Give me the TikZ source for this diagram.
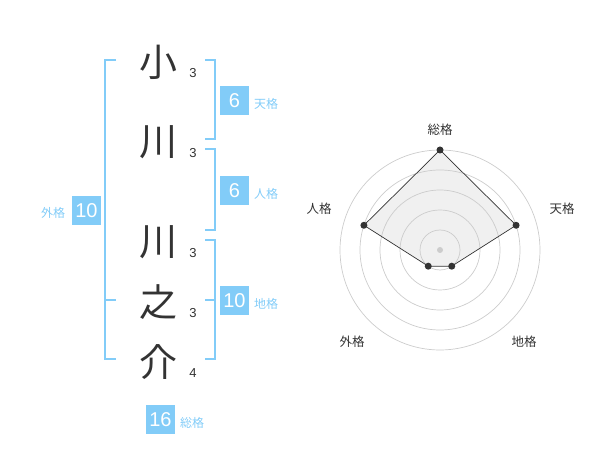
\documentclass[tikz,border=0pt]{standalone}
\usepackage{fontspec}
\setmainfont{Liberation Sans}
\newfontfamily\jpfont{Noto Sans CJK JP}
\usetikzlibrary{calc}
\definecolor{kakublue}{RGB}{130,204,248}
\definecolor{inkgray}{RGB}{51,51,51}
\tikzset{
  kanji/.style={font=\jpfont\fontsize{38}{38}\selectfont, text=inkgray, inner sep=0pt},
  strokes/.style={font=\fontsize{13}{13}\selectfont, text=inkgray, inner sep=0pt},
  scorebox/.style={fill=kakublue, text=white, minimum width=29pt, minimum height=29pt, inner sep=0pt, font=\fontsize{20}{20}\selectfont},
  kakulabel/.style={font=\jpfont\fontsize{12}{12}\selectfont, text=kakublue, inner sep=0pt},
  bracket/.style={draw=kakublue, line width=2pt},
  ring/.style={draw=black!20, line width=0.7pt},
  axislabel/.style={font=\jpfont\fontsize{12.5}{12.5}\selectfont, text=inkgray, inner sep=0pt},
}
\begin{document}
\begin{tikzpicture}[x=1pt,y=-1pt]
            \useasboundingbox (0,0) rectangle (600,470);
            % name and stroke counts
            \node[kanji] (k1) at (158,62) {小};
            \node[kanji] (k2) at (158,142) {川};
            \node[kanji] (k3) at (158,242) {川};
            \node[kanji] (k4) at (158,302) {之};
            \node[kanji] (k5) at (158,362) {介};
            \node[strokes] (s1) at (193,73) {3};
            \node[strokes] (s2) at (193,153) {3};
            \node[strokes] (s3) at (193,253) {3};
            \node[strokes] (s4) at (193,313) {3};
            \node[strokes] (s5) at (193,373) {4};
            % brackets
            \draw[bracket] (116,60)--(105,60)--(105,359)--(116,359);
            \draw[bracket] (105,300)--(116,300);
            \draw[bracket] (205,60)--(215,60)--(215,139)--(205,139);
            \draw[bracket] (205,149)--(215,149)--(215,230)--(205,230);
            \draw[bracket] (205,240)--(215,240)--(215,359)--(205,359);
            \draw[bracket] (205,300)--(215,300);
            % scores
            \node[scorebox] (gaibox) at (86.5,210.5) {10};
            \node[kakulabel] (gailbl) at (53,213) {外格};
            \node[scorebox] (tenbox) at (234.5,100.5) {6};
            \node[kakulabel] (tenlbl) at (266,104) {天格};
            \node[scorebox] (jinbox) at (234.5,190.5) {6};
            \node[kakulabel] (jinlbl) at (266,194) {人格};
            \node[scorebox] (chibox) at (234.5,300.5) {10};
            \node[kakulabel] (chilbl) at (266,304) {地格};
            \node[scorebox] (soubox) at (160.5,419.5) {16};
            \node[kakulabel] (soulbl) at (192,423) {総格};
            % radar
            \coordinate (c) at (440,250);
            \coordinate (rsou) at ($(c)+(-90:100)$);
            \coordinate (rten) at ($(c)+(-18:80)$);
            \coordinate (rchi) at ($(c)+(54:20)$);
            \coordinate (rgai) at ($(c)+(126:20)$);
            \coordinate (rjin) at ($(c)+(198:80)$);
            \fill[black!6] (rsou)--(rten)--(rchi)--(rgai)--(rjin)--cycle;
            \foreach \r in {20,40,60,80,100}
                \draw[ring] (c) circle[radius=\r pt];
            \fill[black!20] (c) circle[radius=3pt];
            \draw[inkgray,line width=0.7pt] (rsou)--(rten)--(rchi)--(rgai)--(rjin)--cycle;
            \foreach \p in {rsou,rten,rchi,rgai,rjin}
                \fill[inkgray] (\p) circle[radius=3.5pt];
            \node[axislabel] (asou) at (440,130) {総格};
            \node[axislabel] (aten) at (562,209) {天格};
            \node[axislabel] (ajin) at (319,209) {人格};
            \node[axislabel] (agai) at (352,342) {外格};
            \node[axislabel] (achi) at (524,342) {地格};
        \end{tikzpicture}
\end{document}
